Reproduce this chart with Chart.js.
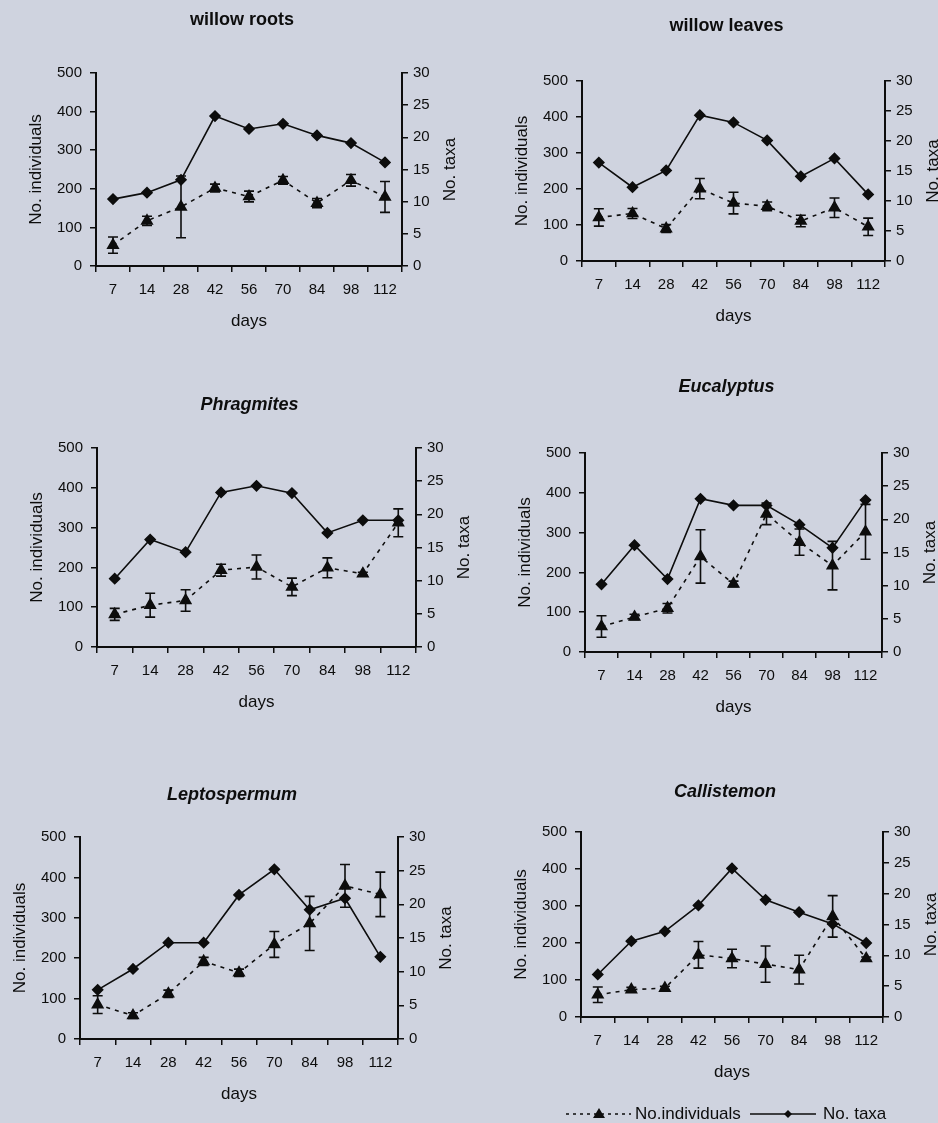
<!DOCTYPE html>
<html>
<head>
<meta charset="utf-8">
<script src="https://cdn.jsdelivr.net/npm/chart.js@4.4.1/dist/chart.umd.min.js"></script>
<style>
body{margin:0;background:#cfd3df;width:938px;height:1123px;overflow:hidden;position:relative}
canvas{position:absolute}
</style>
</head>
<body>
<canvas id="c1"></canvas>
<canvas id="c2"></canvas>
<canvas id="c3"></canvas>
<canvas id="c4"></canvas>
<canvas id="c5"></canvas>
<canvas id="c6"></canvas>
<script>
// sampling days (category axis)
const days = ['7','14','28','42','56','70','84','98','112']

const rootsInd  = [54,117,153,202,180,222,163,222,179]
const rootsErr  = [21,12,80,10,14,10,12,15,40]
const rootsTaxa = [10.4,11.4,13.4,23.3,21.3,22.1,20.3,19.1,16.1]

const leavesInd  = [121,132,90,201,161,152,111,148,95]
const leavesErr  = [24,14,11,28,30,12,16,27,24]
const leavesTaxa = [16.4,12.3,15.1,24.3,23.1,20.1,14.1,17.1,11.1]

const phragInd  = [82,105,117,193,201,151,199,184,312]
const phragErr  = [15,30,27,15,30,22,25,4,35]
const phragTaxa = [10.3,16.2,14.3,23.3,24.3,23.2,17.2,19.1,19.1]

const eucInd  = [64,88,110,240,171,347,276,217,302]
const eucErr  = [27,7,12,67,7,27,33,61,69]
const eucTaxa = [10.2,16.1,11.0,23.1,22.1,22.1,19.2,15.7,22.9]

const leptoInd  = [85,58,112,192,164,234,286,379,358]
const leptoErr  = [22,7,9,10,9,32,67,53,55]
const leptoTaxa = [7.3,10.4,14.3,14.3,21.4,25.2,19.2,20.9,12.2]

const callInd  = [60,74,78,168,158,143,128,272,158]
const callErr  = [21,6,5,36,25,49,39,56,4]
const callTaxa = [6.9,12.3,13.9,18.1,24.1,19.0,17.0,15.1,12.0]

const FONT = "'Liberation Sans', Arial, sans-serif"
const INK = '#0d0d0d'
const YW = 74   // left axis box width
const Y1W = 60  // right axis box width
const XH = 70   // x axis box height

// vertical error bars on the individuals series
const errorBars = {
  id:'errorBars',
  afterDatasetsDraw(chart){
    const ds = chart.data.datasets[0]
    const meta = chart.getDatasetMeta(0)
    const ys = chart.scales.y
    const ctx = chart.ctx
    ctx.save()
    ctx.strokeStyle = INK
    ctx.lineWidth = 1.6
    ds.data.forEach((v,i)=>{
      const e = ds.errors[i]
      const x = meta.data[i].x
      const y1 = ys.getPixelForValue(v+e)
      const y2 = ys.getPixelForValue(Math.max(0,v-e))
      ctx.beginPath()
      ctx.moveTo(x,y1); ctx.lineTo(x,y2)
      ctx.moveTo(x-5,y1); ctx.lineTo(x+5,y1)
      ctx.moveTo(x-5,y2); ctx.lineTo(x+5,y2)
      ctx.stroke()
    })
    ctx.restore()
  }
}

// right axis title, reading bottom to top like the left one
const rightTitle = {
  id:'rightTitle',
  afterDraw(chart){
    const a = chart.chartArea
    const ctx = chart.ctx
    ctx.save()
    ctx.translate(a.right+48,(a.top+a.bottom)/2)
    ctx.rotate(-Math.PI/2)
    ctx.font = '17px '+FONT
    ctx.fillStyle = INK
    ctx.textAlign = 'center'
    ctx.textBaseline = 'middle'
    ctx.fillText('No. taxa',0,0)
    ctx.restore()
  }
}

// shared legend under the last panel
const bottomLegend = {
  id:'bottomLegend',
  afterDraw(chart){
    if(!chart.options.plugins.bottomLegend.show) return
    const ctx = chart.ctx
    const y = chart.height - 9
    ctx.save()
    ctx.strokeStyle = INK
    ctx.fillStyle = INK
    ctx.lineWidth = 1.6
    ctx.setLineDash([3,4])
    ctx.beginPath(); ctx.moveTo(59,y); ctx.lineTo(124,y); ctx.stroke()
    ctx.setLineDash([])
    ctx.beginPath(); ctx.moveTo(92,y-6); ctx.lineTo(98,y+4); ctx.lineTo(86,y+4); ctx.closePath(); ctx.fill()
    ctx.beginPath(); ctx.moveTo(243,y); ctx.lineTo(309,y); ctx.stroke()
    ctx.beginPath(); ctx.moveTo(281,y-4); ctx.lineTo(285,y); ctx.lineTo(281,y+4); ctx.lineTo(277,y); ctx.closePath(); ctx.fill()
    ctx.font = '17px '+FONT
    ctx.textBaseline = 'middle'
    ctx.fillText('No.individuals',128,y)
    ctx.fillText('No. taxa',316,y)
    ctx.restore()
  }
}

function axisGrid(){
  return {drawOnChartArea:false, drawTicks:true, tickLength:6, color:INK, lineWidth:1.5}
}

function makePanel(id, box, title, italic, ind, err, taxa, legend){
  const el = document.getElementById(id)
  const top = box.ty - 12
  const extra = legend ? 36 : 0
  el.width = box.R - box.L + YW + Y1W
  el.height = box.B - top + XH + extra
  el.style.left = (box.L - YW) + 'px'
  el.style.top = top + 'px'

  new Chart(el,{
    type:'line',
    data:{
      labels:days,
      datasets:[{
        label:'No.individuals',
        data:ind,
        errors:err,
        yAxisID:'y',
        borderColor:INK,
        backgroundColor:INK,
        borderWidth:1.6,
        borderDash:[4,5],
        pointStyle:'triangle',
        pointRadius:6,
        pointBackgroundColor:INK,
        pointBorderColor:INK,
        tension:0
      },{
        label:'No. taxa',
        data:taxa,
        yAxisID:'y1',
        borderColor:INK,
        backgroundColor:INK,
        borderWidth:1.6,
        pointStyle:'rectRot',
        pointRadius:5,
        pointBackgroundColor:INK,
        pointBorderColor:INK,
        tension:0
      }]
    },
    options:{
      responsive:false,
      animation:false,
      devicePixelRatio:1,
      layout:{padding:{bottom:extra}},
      plugins:{
        legend:{display:false},
        tooltip:{enabled:false},
        bottomLegend:{show:legend},
        title:{
          display:true,
          text:title,
          color:INK,
          font:{family:FONT,size:18,weight:'bold',style:italic?'italic':'normal',lineHeight:1.2},
          padding:{top:1.2,bottom:box.T - box.ty - 10.8}
        }
      },
      scales:{
        x:{
          type:'category',
          offset:true,
          grid:Object.assign(axisGrid(),{offset:true}),
          border:{display:true,color:INK,width:2},
          ticks:{color:INK,font:{family:FONT,size:15},padding:9,maxRotation:0,autoSkip:false},
          title:{display:true,text:'days',color:INK,font:{family:FONT,size:17},padding:{top:4,bottom:4}},
          afterFit(s){ s.height = XH }
        },
        y:{
          position:'left',
          min:0,max:500,
          grid:axisGrid(),
          border:{display:true,color:INK,width:2},
          ticks:{stepSize:100,color:INK,font:{family:FONT,size:15},padding:8},
          title:{display:true,text:'No. individuals',color:INK,font:{family:FONT,size:17},padding:{top:4,bottom:4}},
          afterFit(s){ s.width = YW }
        },
        y1:{
          position:'right',
          min:0,max:30,
          grid:axisGrid(),
          border:{display:true,color:INK,width:2},
          ticks:{stepSize:5,color:INK,font:{family:FONT,size:15},padding:5},
          afterFit(s){ s.width = Y1W }
        }
      }
    },
    plugins:[errorBars,rightTitle,bottomLegend]
  })
}

makePanel('c1',{L:96,R:402,T:73,B:266,ty:20},'willow roots',false,rootsInd,rootsErr,rootsTaxa,false)
makePanel('c2',{L:582,R:885,T:81,B:261,ty:26},'willow leaves',false,leavesInd,leavesErr,leavesTaxa,false)
makePanel('c3',{L:97,R:416,T:448,B:647,ty:405},'Phragmites',true,phragInd,phragErr,phragTaxa,false)
makePanel('c4',{L:585,R:882,T:453,B:652,ty:387},'Eucalyptus',true,eucInd,eucErr,eucTaxa,false)
makePanel('c5',{L:80,R:398,T:837,B:1039,ty:795},'Leptospermum',true,leptoInd,leptoErr,leptoTaxa,false)
makePanel('c6',{L:581,R:883,T:832,B:1017,ty:792},'Callistemon',true,callInd,callErr,callTaxa,true)
</script>
</body>
</html>
